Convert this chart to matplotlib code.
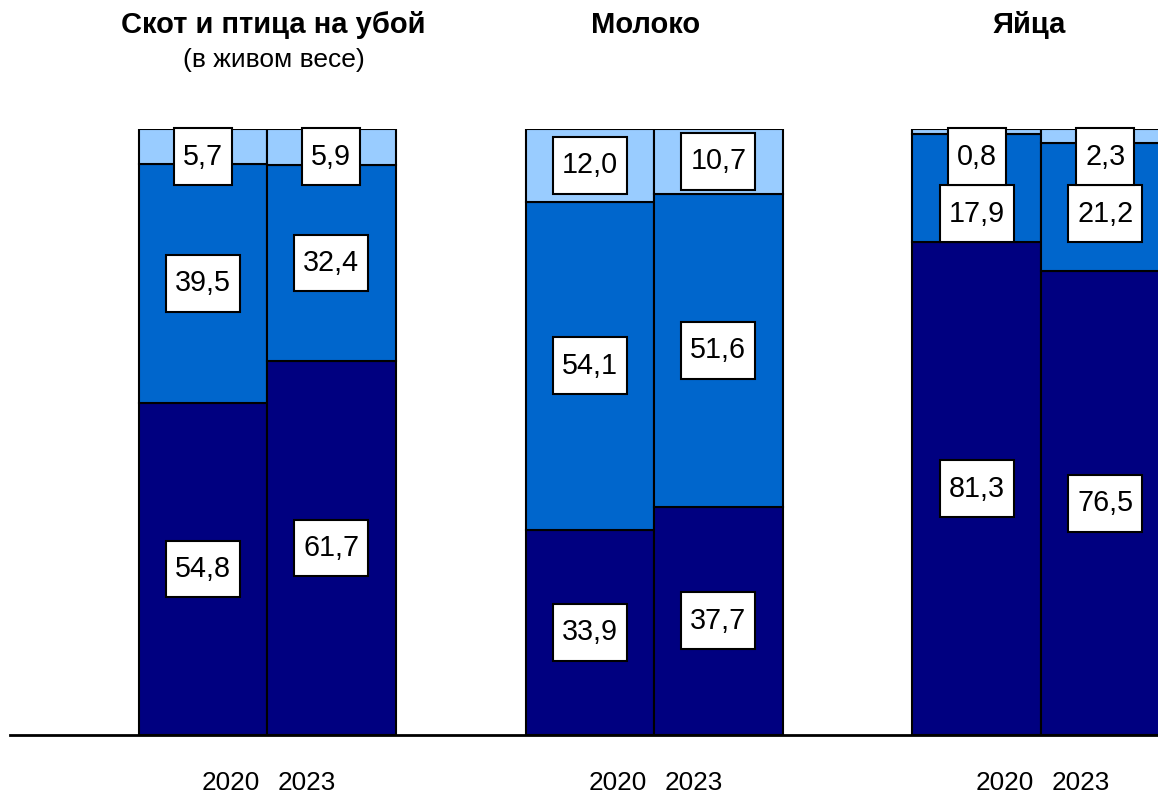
import matplotlib.pyplot as plt
from matplotlib.path import Path
import numpy as np

plt.rcParams['font.family'] = ['Liberation Sans', 'DejaVu Sans']

##########
#  Data  #
##########
groups = ['Скот и птица на убой', 'Молоко', 'Яйца']
subtitles = ['(в живом весе)', '', '']
years = ['2020', '2023']

bottom_part = [[54.8, 61.7], [33.9, 37.7], [81.3, 76.5]]
middle_part = [[39.5, 32.4], [54.1, 51.6], [17.9, 21.2]]
top_part = [[5.7, 5.9], [12.0, 10.7], [0.8, 2.3]]

colors = ['#000080', '#0066CC', '#99CCFF']

# label box: wider vertical padding than horizontal
def label_box(x0, y0, width, height, mutation_size):
    padx = 0.31 * mutation_size
    pady = 0.5 * mutation_size
    x0, y0 = x0 - padx, y0 - pady
    x1, y1 = x0 + width + 2 * padx, y0 + height + 2 * pady
    return Path([(x0, y0), (x1, y0), (x1, y1), (x0, y1), (x0, y0)], closed=True)

def fmt(v):
    return '{:.1f}'.format(v).replace('.', ',')

#########
# Plot  #
#########
fig = plt.figure(figsize=(11.58, 7.96), dpi=100)
ax = fig.add_axes([10 / 1158, 61 / 796, 1148 / 1158, 606 / 796])

group_x = np.array([0.0, 3.01, 6.02])
title_dx = [0.05, -0.07, -0.09]
width = 1.0

box = dict(boxstyle=label_box, facecolor='white', edgecolor='black', linewidth=1.5)
fs = 20.7

for g in range(len(groups)):
    for i in range(2):
        x = group_x[g] + (i - 0.5) * width
        b = bottom_part[g][i]
        m = middle_part[g][i]
        t = top_part[g][i]
        ax.bar(x, b, width, color=colors[0], edgecolor='black', linewidth=1.5)
        ax.bar(x, m, width, bottom=b, color=colors[1], edgecolor='black', linewidth=1.5)
        ax.bar(x, t, width, bottom=b + m, color=colors[2], edgecolor='black', linewidth=1.5)

        y_top = min(100 - t / 2, 95.46)
        y_mid = min(b + m / 2, 86.0)
        ax.text(x, b / 2, fmt(b), ha='center', va='center', fontsize=fs, bbox=box)
        ax.text(x, y_mid, fmt(m), ha='center', va='center', fontsize=fs, bbox=box)
        ax.text(x, y_top, fmt(t), ha='center', va='center', fontsize=fs, bbox=box)

        ax.text(group_x[g] + 0.015 + (i - 0.5) * 0.59, -7.9, years[i],
                ha='center', va='center', fontsize=18.8)

    ax.text(group_x[g] + title_dx[g], 117.2, groups[g], ha='center', va='center',
            fontsize=21, fontweight='bold')
    if subtitles[g]:
        ax.text(group_x[g] + 0.05, 111.4, subtitles[g], ha='center', va='center', fontsize=19)

ax.set_xlim(-2.0, 6.93)
ax.set_ylim(0, 100)
for s in ['top', 'left', 'right']:
    ax.spines[s].set_visible(False)
ax.spines['bottom'].set_linewidth(2)
ax.set_xticks([])
ax.set_yticks([])
for t in ax.texts:
    t.set_clip_on(False)

fig.savefig('out.png', dpi=100)
